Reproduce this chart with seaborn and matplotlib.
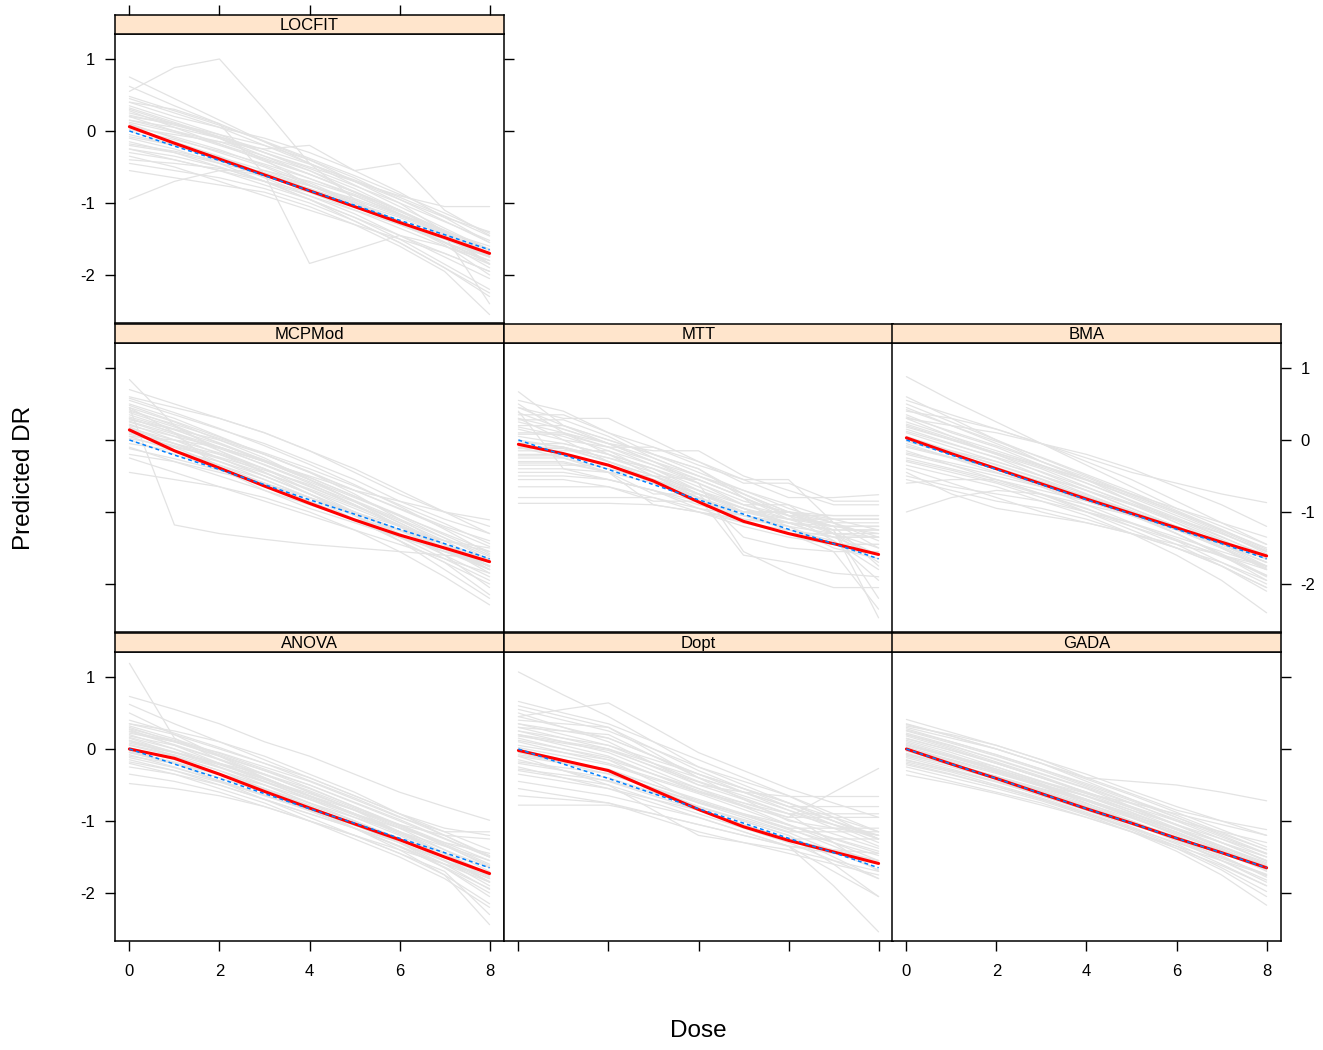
import numpy as np
import pandas as pd
import seaborn as sns
import matplotlib.pyplot as plt

# Predicted dose-response curves per method (grey = single simulations,
# red = mean prediction, blue dashed = true curve)

doses = [0, 1, 2, 3, 4, 5, 6, 7, 8]

true_dr = [0.0, -0.21, -0.41, -0.62, -0.83, -1.03, -1.24, -1.44, -1.65]

locfit_fit = [0.06, -0.17, -0.39, -0.61, -0.83, -1.05, -1.27, -1.48, -1.70]
mcpmod_fit = [0.14, -0.15, -0.39, -0.64, -0.88, -1.11, -1.32, -1.50, -1.69]
mtt_fit = [-0.06, -0.19, -0.35, -0.57, -0.86, -1.13, -1.30, -1.44, -1.59]
bma_fit = [0.03, -0.19, -0.40, -0.61, -0.82, -1.02, -1.22, -1.42, -1.61]
anova_fit = [0.0, -0.13, -0.35, -0.59, -0.82, -1.04, -1.26, -1.50, -1.73]
dopt_fit = [-0.02, -0.16, -0.30, -0.57, -0.84, -1.08, -1.27, -1.43, -1.59]
gada_fit = [0.0, -0.21, -0.41, -0.62, -0.83, -1.03, -1.24, -1.44, -1.65]

locfit_sims = [
    [0.75, 0.45, 0.15, -0.15, -0.45, -0.75, -1.05, -1.35, -1.65],
    [0.62, 0.35, 0.10, -0.15, -0.40, -0.70, -1.00, -1.40, -1.85],
    [0.55, 0.88, 1.00, 0.30, -0.45, -0.95, -1.30, -1.55, -1.75],
    [0.45, 0.25, 0.05, -0.20, -0.45, -0.70, -0.95, -1.20, -1.40],
    [0.40, 0.20, 0.05, -0.10, -0.30, -0.55, -0.85, -1.20, -1.55],
    [0.35, 0.15, -0.05, -0.30, -0.55, -0.85, -1.15, -1.45, -1.75],
    [0.30, 0.10, -0.10, -0.35, -0.60, -0.85, -1.10, -1.40, -1.70],
    [0.25, 0.10, -0.05, -0.20, -0.40, -0.65, -0.95, -1.25, -1.55],
    [0.20, 0.00, -0.20, -0.40, -0.60, -0.85, -1.10, -1.40, -1.70],
    [0.15, 0.00, -0.15, -0.35, -0.55, -0.80, -1.10, -1.45, -1.85],
    [0.10, -0.10, -0.30, -0.50, -0.75, -1.00, -1.25, -1.55, -1.90],
    [0.05, -0.15, -0.35, -0.60, -0.85, -1.10, -1.35, -1.60, -1.85],
    [0.00, -0.20, -0.40, -0.60, -0.80, -1.05, -1.30, -1.55, -1.80],
    [-0.05, -0.20, -0.40, -0.65, -0.90, -1.15, -1.45, -1.75, -2.05],
    [-0.10, -0.25, -0.45, -0.70, -0.95, -1.25, -1.55, -1.90, -2.25],
    [-0.15, -0.30, -0.50, -0.70, -0.90, -1.10, -1.30, -1.50, -1.70],
    [-0.20, -0.30, -0.45, -0.60, -0.80, -1.00, -1.25, -1.50, -1.75],
    [-0.25, -0.35, -0.50, -0.70, -0.95, -1.20, -1.45, -1.70, -1.95],
    [-0.30, -0.40, -0.55, -0.75, -0.95, -1.20, -1.50, -1.85, -2.20],
    [-0.35, -0.50, -0.70, -0.90, -1.10, -1.30, -1.50, -1.70, -1.95],
    [-0.45, -0.55, -0.65, -0.80, -1.00, -1.25, -1.55, -1.90, -2.30],
    [-0.55, -0.65, -0.75, -0.85, -1.05, -1.30, -1.60, -1.95, -2.55],
    [-0.95, -0.70, -0.55, -0.55, -0.70, -0.90, -1.15, -1.40, -1.60],
    [0.20, 0.10, -0.10, -0.40, -0.75, -1.00, -1.25, -1.50, -1.75],
    [0.40, 0.30, 0.10, -0.60, -1.84, -1.65, -1.45, -1.60, -1.80],
    [0.05, -0.05, -0.15, -0.25, -0.20, -0.55, -0.45, -1.10, -1.45],
    [0.15, 0.05, -0.10, -0.30, -0.50, -0.70, -0.90, -1.05, -1.05],
    [-0.25, -0.40, -0.55, -0.70, -0.85, -1.00, -1.20, -1.45, -2.40],
    [0.32, 0.12, -0.08, -0.30, -0.52, -0.76, -1.00, -1.26, -1.52],
    [0.28, 0.05, -0.18, -0.42, -0.66, -0.90, -1.16, -1.44, -1.74],
    [0.12, -0.02, -0.18, -0.38, -0.60, -0.84, -1.10, -1.38, -1.66],
    [0.02, -0.12, -0.28, -0.46, -0.66, -0.88, -1.12, -1.38, -1.64],
    [-0.08, -0.20, -0.36, -0.55, -0.76, -1.00, -1.26, -1.54, -1.84],
    [-0.18, -0.28, -0.42, -0.58, -0.76, -0.96, -1.18, -1.42, -1.66],
    [0.48, 0.28, 0.08, -0.14, -0.38, -0.62, -0.88, -1.14, -1.42],
    [0.22, 0.08, -0.08, -0.26, -0.46, -0.68, -0.92, -1.18, -1.46],
    [-0.40, -0.45, -0.52, -0.62, -0.76, -0.94, -1.16, -1.42, -1.72],
    [0.08, -0.08, -0.26, -0.48, -0.72, -0.98, -1.26, -1.58, -2.00],
]

mcpmod_sims = [
    [0.84, 0.20, -0.15, -0.45, -0.75, -1.00, -1.25, -1.45, -1.65],
    [0.60, 0.45, 0.30, 0.10, -0.15, -0.45, -0.75, -1.00, -1.20],
    [0.55, 0.35, 0.15, -0.05, -0.30, -0.55, -0.85, -1.10, -1.30],
    [0.50, 0.30, 0.05, -0.20, -0.45, -0.70, -0.95, -1.20, -1.40],
    [0.45, 0.25, 0.00, -0.25, -0.55, -0.85, -1.15, -1.45, -1.75],
    [0.42, 0.20, -0.05, -0.30, -0.55, -0.80, -1.05, -1.30, -1.55],
    [0.45, -1.18, -1.30, -1.38, -1.45, -1.50, -1.55, -1.60, -1.65],
    [0.35, 0.15, -0.10, -0.35, -0.60, -0.90, -1.20, -1.50, -1.80],
    [0.30, 0.10, -0.15, -0.40, -0.70, -1.00, -1.30, -1.60, -1.90],
    [0.28, 0.15, 0.00, -0.20, -0.45, -0.75, -1.10, -1.45, -1.80],
    [0.25, 0.05, -0.20, -0.45, -0.70, -0.95, -1.20, -1.40, -1.55],
    [0.22, 0.00, -0.25, -0.50, -0.75, -1.00, -1.25, -1.50, -1.75],
    [0.20, 0.05, -0.10, -0.30, -0.55, -0.85, -1.15, -1.45, -1.75],
    [0.15, -0.05, -0.25, -0.50, -0.75, -1.05, -1.35, -1.65, -1.95],
    [0.12, -0.10, -0.35, -0.60, -0.85, -1.10, -1.35, -1.55, -1.75],
    [0.10, -0.05, -0.20, -0.40, -0.65, -0.90, -1.20, -1.50, -1.85],
    [0.05, -0.15, -0.35, -0.55, -0.80, -1.05, -1.30, -1.55, -1.80],
    [0.05, 0.00, -0.10, -0.30, -0.55, -0.85, -1.20, -1.60, -2.05],
    [0.00, -0.20, -0.40, -0.60, -0.85, -1.10, -1.40, -1.70, -2.00],
    [-0.05, -0.15, -0.30, -0.50, -0.75, -1.05, -1.40, -1.80, -2.20],
    [-0.10, -0.30, -0.50, -0.70, -0.90, -1.10, -1.25, -1.40, -1.50],
    [-0.20, -0.30, -0.45, -0.60, -0.80, -1.00, -1.20, -1.45, -1.70],
    [-0.25, -0.45, -0.65, -0.85, -1.05, -1.25, -1.45, -1.65, -1.85],
    [-0.45, -0.55, -0.65, -0.80, -1.00, -1.25, -1.55, -1.90, -2.29],
    [0.70, 0.50, 0.30, 0.10, -0.15, -0.40, -0.70, -1.00, -1.30],
    [0.30, 0.10, -0.10, -0.30, -0.50, -0.70, -0.85, -1.00, -1.11],
    [0.18, -0.05, -0.30, -0.55, -0.80, -1.10, -1.40, -1.70, -2.15],
    [0.45, 0.10, -0.40, -0.70, -0.95, -1.15, -1.35, -1.55, -1.70],
    [0.48, 0.26, 0.04, -0.20, -0.44, -0.70, -0.96, -1.22, -1.48],
    [0.38, 0.18, -0.04, -0.28, -0.52, -0.78, -1.04, -1.32, -1.60],
    [0.32, 0.14, -0.06, -0.28, -0.52, -0.78, -1.06, -1.36, -1.66],
    [0.26, 0.08, -0.12, -0.34, -0.58, -0.84, -1.10, -1.36, -1.62],
    [0.16, 0.00, -0.18, -0.40, -0.64, -0.90, -1.18, -1.46, -1.76],
    [0.08, -0.08, -0.26, -0.46, -0.68, -0.92, -1.18, -1.46, -1.76],
    [0.02, -0.10, -0.24, -0.42, -0.62, -0.86, -1.12, -1.40, -1.70],
    [-0.12, -0.26, -0.42, -0.60, -0.80, -1.02, -1.26, -1.52, -1.80],
    [0.40, 0.22, 0.02, -0.18, -0.40, -0.64, -0.90, -1.16, -1.44],
    [0.58, 0.38, 0.16, -0.08, -0.34, -0.62, -0.92, -1.24, -1.58],
]

mtt_sims = [
    [0.67, 0.20, -0.05, -0.30, -0.55, -0.80, -1.05, -1.40, -1.80],
    [0.55, 0.40, 0.10, -0.20, -0.40, -0.80, -1.10, -1.30, -1.50],
    [0.45, 0.30, 0.30, 0.00, -0.30, -0.60, -0.60, -0.85, -0.85],
    [0.40, -0.40, -0.45, -0.50, -0.75, -1.00, -1.00, -1.20, -1.20],
    [0.35, 0.35, 0.10, -0.10, -0.35, -0.55, -0.80, -0.80, -0.76],
    [0.30, 0.15, -0.05, -0.15, -0.15, -0.50, -0.70, -0.90, -0.90],
    [0.25, 0.10, -0.10, -0.10, -0.30, -0.55, -0.55, -1.15, -1.40],
    [0.20, 0.20, 0.00, -0.20, -0.40, -0.75, -1.05, -1.05, -1.05],
    [0.15, 0.00, -0.10, -0.30, -0.50, -0.75, -1.00, -1.30, -1.60],
    [0.10, 0.10, -0.05, -0.30, -0.60, -0.90, -1.10, -1.10, -1.10],
    [0.05, -0.05, -0.20, -0.40, -0.65, -0.90, -0.90, -1.30, -1.70],
    [0.00, -0.10, -0.25, -0.40, -0.70, -1.00, -1.15, -1.25, -1.25],
    [-0.05, -0.05, -0.20, -0.50, -0.55, -0.80, -1.30, -1.30, -1.35],
    [-0.10, -0.10, -0.30, -0.55, -0.75, -1.35, -1.50, -1.55, -1.55],
    [-0.15, -0.15, -0.15, -0.45, -0.75, -0.95, -1.15, -1.35, -1.60],
    [-0.20, -0.20, -0.35, -0.60, -0.85, -1.00, -1.00, -1.10, -1.10],
    [-0.25, -0.25, -0.40, -0.55, -0.80, -1.05, -1.25, -1.40, -1.95],
    [-0.30, -0.30, -0.45, -0.75, -0.75, -0.95, -1.20, -1.45, -1.45],
    [-0.35, -0.35, -0.35, -0.55, -0.85, -1.00, -1.00, -1.25, -2.20],
    [-0.40, -0.40, -0.55, -0.70, -0.95, -1.15, -1.25, -1.35, -1.35],
    [-0.45, -0.45, -0.55, -0.70, -0.85, -1.05, -1.15, -1.25, -2.47],
    [-0.55, -0.55, -0.65, -0.85, -0.85, -1.10, -1.20, -1.50, -1.65],
    [-0.65, -0.65, -0.65, -0.80, -1.00, -1.20, -1.35, -1.45, -1.45],
    [-0.80, -0.80, -0.80, -0.80, -0.95, -1.05, -1.20, -1.30, -1.30],
    [-0.88, -0.88, -0.88, -0.90, -1.00, -1.10, -1.15, -1.20, -1.20],
    [0.50, 0.10, -0.20, -0.40, -0.60, -1.55, -1.85, -2.05, -2.05],
    [0.30, 0.00, -0.30, -0.50, -0.80, -1.60, -1.70, -1.85, -1.90],
    [-0.10, -0.25, -0.45, -0.90, -1.00, -1.15, -1.30, -1.55, -2.35],
    [0.45, 0.20, 0.00, -0.20, -0.45, -0.70, -0.95, -1.15, -1.35],
    [0.28, 0.28, 0.05, -0.25, -0.50, -0.70, -0.90, -1.10, -1.25],
    [0.18, 0.05, -0.15, -0.35, -0.55, -0.80, -1.05, -1.20, -1.20],
    [0.08, 0.08, -0.10, -0.35, -0.60, -0.85, -1.00, -1.15, -1.50],
    [-0.02, -0.10, -0.25, -0.45, -0.70, -0.95, -1.10, -1.20, -1.30],
    [-0.12, -0.12, -0.30, -0.50, -0.70, -0.90, -1.05, -1.20, -1.75],
    [-0.22, -0.22, -0.35, -0.55, -0.75, -0.95, -1.15, -1.35, -1.35],
    [-0.32, -0.32, -0.45, -0.60, -0.80, -1.00, -1.10, -1.15, -1.15],
    [-0.50, -0.50, -0.55, -0.70, -0.90, -1.05, -1.15, -1.25, -1.25],
    [0.38, 0.15, -0.05, -0.25, -0.50, -0.75, -1.00, -1.05, -1.05],
]

bma_sims = [
    [0.88, 0.55, 0.25, -0.05, -0.35, -0.65, -0.95, -1.20, -1.45],
    [0.55, 0.35, 0.15, -0.05, -0.25, -0.45, -0.60, -0.75, -0.87],
    [0.50, 0.25, 0.00, -0.25, -0.50, -0.75, -1.00, -1.25, -1.50],
    [0.45, 0.20, -0.05, -0.30, -0.55, -0.85, -1.15, -1.45, -1.75],
    [0.40, 0.30, 0.15, -0.05, -0.30, -0.55, -0.85, -1.15, -1.45],
    [0.35, 0.10, -0.10, -0.35, -0.60, -0.85, -1.10, -1.35, -1.60],
    [0.30, 0.05, -0.20, -0.45, -0.70, -0.95, -1.20, -1.50, -1.80],
    [0.25, 0.05, -0.15, -0.35, -0.55, -0.75, -0.95, -1.15, -1.35],
    [0.20, 0.00, -0.20, -0.40, -0.65, -0.90, -1.15, -1.40, -1.65],
    [0.15, -0.05, -0.25, -0.50, -0.75, -1.00, -1.30, -1.60, -1.95],
    [0.10, -0.10, -0.30, -0.50, -0.70, -0.95, -1.20, -1.45, -1.70],
    [0.05, -0.15, -0.35, -0.55, -0.80, -1.05, -1.30, -1.60, -1.90],
    [0.00, -0.15, -0.30, -0.50, -0.70, -0.90, -1.10, -1.30, -1.55],
    [-0.05, -0.25, -0.45, -0.65, -0.90, -1.15, -1.40, -1.70, -2.00],
    [-0.10, -0.25, -0.40, -0.60, -0.80, -1.00, -1.20, -1.45, -1.70],
    [-0.15, -0.35, -0.55, -0.75, -1.00, -1.25, -1.50, -1.75, -2.05],
    [-0.20, -0.35, -0.50, -0.65, -0.85, -1.05, -1.25, -1.45, -1.65],
    [-0.25, -0.40, -0.55, -0.75, -0.95, -1.20, -1.45, -1.75, -2.10],
    [-0.30, -0.45, -0.60, -0.80, -1.00, -1.20, -1.40, -1.60, -1.80],
    [-0.35, -0.50, -0.65, -0.85, -1.05, -1.30, -1.60, -1.95, -2.40],
    [-0.40, -0.60, -0.80, -1.00, -1.15, -1.30, -1.45, -1.60, -1.75],
    [-0.50, -0.65, -0.75, -0.85, -1.00, -1.15, -1.35, -1.55, -1.75],
    [-0.60, -0.55, -0.55, -0.70, -0.85, -1.05, -1.25, -1.50, -1.80],
    [-1.00, -0.80, -0.70, -0.75, -0.90, -1.05, -1.25, -1.45, -1.70],
    [-0.55, -0.70, -0.85, -0.95, -1.10, -1.30, -1.50, -1.75, -2.05],
    [0.30, 0.20, 0.10, -0.05, -0.20, -0.40, -0.65, -0.90, -1.20],
    [0.60, 0.30, 0.00, -0.30, -0.55, -0.80, -1.05, -1.30, -1.55],
    [-0.45, -0.75, -0.95, -1.05, -1.15, -1.30, -1.50, -1.70, -1.95],
    [0.42, 0.20, -0.02, -0.24, -0.48, -0.72, -0.98, -1.24, -1.52],
    [0.32, 0.12, -0.08, -0.30, -0.52, -0.76, -1.00, -1.26, -1.54],
    [0.22, 0.02, -0.18, -0.38, -0.60, -0.84, -1.08, -1.34, -1.62],
    [0.12, -0.06, -0.24, -0.44, -0.66, -0.88, -1.12, -1.38, -1.66],
    [0.02, -0.16, -0.34, -0.54, -0.76, -0.98, -1.22, -1.48, -1.76],
    [-0.08, -0.24, -0.40, -0.58, -0.78, -1.00, -1.24, -1.50, -1.78],
    [-0.18, -0.32, -0.46, -0.62, -0.80, -1.00, -1.20, -1.42, -1.64],
    [-0.28, -0.42, -0.58, -0.76, -0.96, -1.16, -1.38, -1.62, -1.88],
    [0.18, 0.00, -0.18, -0.36, -0.56, -0.78, -1.02, -1.28, -1.58],
    [-0.02, -0.20, -0.38, -0.58, -0.80, -1.04, -1.30, -1.58, -1.88],
]

anova_sims = [
    [1.19, 0.15, -0.15, -0.40, -0.65, -0.90, -1.15, -1.45, -1.75],
    [0.73, 0.55, 0.35, 0.10, -0.10, -0.35, -0.60, -0.80, -0.99],
    [0.62, 0.35, 0.10, -0.15, -0.40, -0.65, -0.90, -1.15, -1.40],
    [0.35, 0.20, 0.00, -0.20, -0.40, -0.65, -0.90, -1.10, -1.20],
    [0.30, 0.10, -0.10, -0.35, -0.60, -0.85, -1.10, -1.40, -1.70],
    [0.27, 0.05, -0.20, -0.45, -0.70, -0.95, -1.20, -1.50, -1.85],
    [0.25, 0.10, -0.10, -0.30, -0.50, -0.75, -1.00, -1.25, -1.50],
    [0.20, 0.00, -0.25, -0.50, -0.75, -1.00, -1.25, -1.55, -1.90],
    [0.18, 0.05, -0.15, -0.35, -0.60, -0.85, -1.15, -1.50, -1.85],
    [0.15, -0.05, -0.25, -0.45, -0.65, -0.85, -1.05, -1.20, -1.25],
    [0.12, -0.10, -0.30, -0.55, -0.80, -1.05, -1.30, -1.60, -1.95],
    [0.10, -0.05, -0.20, -0.40, -0.65, -0.90, -1.15, -1.40, -1.65],
    [0.08, -0.05, -0.20, -0.35, -0.55, -0.80, -1.05, -1.30, -1.55],
    [0.05, -0.10, -0.30, -0.50, -0.75, -1.00, -1.30, -1.65, -2.05],
    [0.02, -0.15, -0.35, -0.55, -0.75, -0.95, -1.15, -1.35, -1.55],
    [-0.02, -0.20, -0.40, -0.60, -0.80, -1.05, -1.30, -1.55, -1.80],
    [-0.05, -0.20, -0.35, -0.55, -0.80, -1.10, -1.40, -1.75, -2.15],
    [-0.08, -0.25, -0.45, -0.65, -0.85, -1.10, -1.35, -1.65, -2.00],
    [-0.10, -0.20, -0.35, -0.50, -0.70, -0.90, -1.10, -1.30, -1.45],
    [-0.15, -0.30, -0.50, -0.70, -0.90, -1.10, -1.30, -1.55, -1.80],
    [-0.20, -0.35, -0.55, -0.75, -1.00, -1.25, -1.50, -1.80, -2.20],
    [-0.25, -0.35, -0.50, -0.70, -0.90, -1.10, -1.35, -1.60, -1.85],
    [-0.35, -0.45, -0.60, -0.80, -1.00, -1.20, -1.45, -1.75, -2.44],
    [-0.48, -0.55, -0.65, -0.80, -1.00, -1.20, -1.40, -1.60, -1.75],
    [0.50, 0.20, -0.10, -0.40, -0.65, -0.90, -1.15, -1.45, -1.75],
    [0.35, 0.25, 0.10, -0.10, -0.35, -0.60, -0.90, -1.20, -1.50],
    [-0.05, -0.20, -0.45, -0.70, -0.95, -1.20, -1.45, -1.70, -2.30],
    [0.22, 0.10, -0.05, -0.25, -0.45, -0.70, -0.95, -1.15, -1.15],
    [0.32, 0.14, -0.06, -0.28, -0.50, -0.74, -0.98, -1.24, -1.50],
    [0.24, 0.06, -0.14, -0.36, -0.58, -0.82, -1.06, -1.32, -1.60],
    [0.16, 0.00, -0.20, -0.42, -0.66, -0.90, -1.16, -1.44, -1.74],
    [0.06, -0.08, -0.26, -0.46, -0.68, -0.92, -1.18, -1.46, -1.76],
    [-0.04, -0.18, -0.36, -0.56, -0.78, -1.00, -1.24, -1.50, -1.78],
    [-0.12, -0.26, -0.44, -0.64, -0.86, -1.10, -1.36, -1.64, -1.94],
    [0.28, 0.12, -0.08, -0.30, -0.54, -0.80, -1.06, -1.34, -1.64],
    [0.12, -0.04, -0.22, -0.42, -0.62, -0.84, -1.08, -1.34, -1.62],
    [-0.18, -0.30, -0.46, -0.64, -0.84, -1.06, -1.30, -1.56, -1.84],
    [0.40, 0.22, 0.02, -0.20, -0.44, -0.68, -0.94, -1.20, -1.48],
]

dopt_sims = [
    [1.07, 0.75, 0.45, 0.10, -0.25, -0.50, -0.75, -1.00, -1.25],
    [0.66, 0.50, 0.35, 0.10, -0.15, -0.40, -0.65, -0.95, -1.25],
    [0.55, 0.40, 0.25, 0.00, -0.25, -0.45, -0.65, -0.90, -1.15],
    [0.45, 0.55, 0.64, 0.30, -0.05, -0.30, -0.55, -0.75, -0.95],
    [0.40, 0.35, 0.30, -0.05, -0.40, -0.60, -0.80, -1.00, -1.20],
    [0.35, 0.20, 0.05, -0.15, -0.35, -0.55, -0.75, -0.95, -1.15],
    [0.30, 0.15, 0.00, -0.25, -0.50, -0.70, -0.90, -1.30, -1.70],
    [0.25, 0.10, -0.05, -0.30, -0.55, -0.80, -1.05, -1.30, -1.55],
    [0.20, 0.10, 0.00, -0.20, -0.40, -0.60, -0.80, -0.80, -0.80],
    [0.15, 0.00, -0.15, -0.35, -0.55, -0.75, -0.95, -0.95, -0.95],
    [0.10, -0.05, -0.20, -0.40, -0.60, -0.75, -0.90, -1.05, -1.20],
    [0.05, -0.05, -0.15, -0.45, -0.75, -0.90, -1.05, -1.25, -1.45],
    [0.00, -0.15, -0.30, -0.50, -0.70, -0.90, -1.10, -1.35, -1.60],
    [-0.05, -0.20, -0.35, -0.55, -0.75, -0.95, -1.15, -1.15, -1.15],
    [-0.10, -0.20, -0.30, -0.55, -0.80, -1.00, -1.20, -1.50, -1.80],
    [-0.15, -0.30, -0.45, -0.65, -0.85, -1.05, -1.25, -1.25, -1.25],
    [-0.20, -0.30, -0.40, -0.60, -0.80, -1.00, -1.20, -1.60, -2.05],
    [-0.25, -0.40, -0.55, -0.70, -0.85, -1.05, -1.25, -1.40, -1.55],
    [-0.30, -0.40, -0.50, -0.70, -0.90, -1.10, -1.30, -1.55, -1.80],
    [-0.35, -0.45, -0.55, -0.75, -0.95, -1.15, -1.35, -1.90, -2.54],
    [-0.45, -0.55, -0.65, -0.80, -0.95, -1.15, -1.35, -1.45, -1.55],
    [-0.55, -0.65, -0.75, -0.90, -1.05, -1.20, -1.35, -1.70, -2.05],
    [-0.78, -0.78, -0.78, -0.90, -1.05, -1.20, -1.35, -1.40, -1.45],
    [-0.65, -0.70, -0.75, -0.95, -1.15, -1.30, -1.45, -1.60, -1.75],
    [0.20, 0.05, -0.10, -0.35, -0.60, -0.80, -0.95, -0.60, -0.27],
    [0.50, 0.30, 0.10, -0.20, -0.50, -0.60, -0.66, -0.66, -0.66],
    [-0.10, -0.30, -0.50, -0.85, -1.20, -1.30, -1.40, -1.55, -1.70],
    [0.30, 0.25, 0.20, -0.10, -0.40, -0.70, -1.00, -1.10, -1.20],
    [0.45, 0.30, 0.15, -0.10, -0.35, -0.55, -0.75, -1.00, -1.25],
    [0.35, 0.25, 0.15, -0.10, -0.35, -0.60, -0.85, -1.05, -1.25],
    [0.25, 0.15, 0.05, -0.20, -0.45, -0.65, -0.85, -1.10, -1.35],
    [0.12, 0.00, -0.12, -0.35, -0.58, -0.78, -0.98, -1.18, -1.38],
    [0.02, -0.10, -0.22, -0.42, -0.62, -0.84, -1.06, -1.24, -1.42],
    [-0.08, -0.18, -0.28, -0.50, -0.72, -0.92, -1.12, -1.30, -1.48],
    [-0.18, -0.26, -0.34, -0.54, -0.74, -0.92, -1.10, -1.10, -1.10],
    [-0.28, -0.36, -0.44, -0.62, -0.80, -0.98, -1.16, -1.42, -1.68],
    [0.18, 0.08, -0.02, -0.24, -0.46, -0.68, -0.90, -0.90, -0.90],
    [0.60, 0.45, 0.30, 0.00, -0.30, -0.55, -0.80, -1.05, -1.30],
]

gada_sims = [
    [0.41, 0.23, 0.05, -0.15, -0.35, -0.58, -0.80, -1.00, -1.20],
    [0.35, 0.18, 0.00, -0.20, -0.45, -0.70, -0.95, -1.20, -1.45],
    [0.30, 0.15, 0.00, -0.20, -0.40, -0.45, -0.50, -0.60, -0.72],
    [0.28, 0.10, -0.08, -0.28, -0.50, -0.72, -0.95, -1.18, -1.40],
    [0.25, 0.08, -0.10, -0.30, -0.52, -0.75, -1.00, -1.25, -1.50],
    [0.22, 0.05, -0.15, -0.35, -0.55, -0.80, -1.05, -1.30, -1.55],
    [0.20, 0.02, -0.18, -0.38, -0.60, -0.80, -1.00, -1.15, -1.30],
    [0.18, 0.00, -0.20, -0.40, -0.62, -0.85, -1.10, -1.35, -1.60],
    [0.15, -0.02, -0.20, -0.40, -0.60, -0.82, -1.05, -1.30, -1.55],
    [0.12, -0.05, -0.25, -0.45, -0.65, -0.88, -1.12, -1.38, -1.65],
    [0.10, -0.08, -0.28, -0.48, -0.70, -0.92, -1.15, -1.40, -1.70],
    [0.08, -0.10, -0.30, -0.50, -0.65, -0.85, -1.05, -1.25, -1.45],
    [0.05, -0.12, -0.30, -0.50, -0.72, -0.95, -1.20, -1.48, -1.78],
    [0.03, -0.15, -0.32, -0.52, -0.75, -1.00, -1.25, -1.50, -1.75],
    [0.00, -0.15, -0.32, -0.50, -0.70, -0.90, -1.10, -1.30, -1.50],
    [-0.03, -0.20, -0.38, -0.58, -0.78, -1.00, -1.25, -1.55, -1.85],
    [-0.06, -0.22, -0.40, -0.58, -0.80, -1.02, -1.28, -1.55, -1.82],
    [-0.10, -0.25, -0.42, -0.60, -0.80, -1.00, -1.22, -1.45, -1.68],
    [-0.12, -0.28, -0.45, -0.65, -0.85, -1.08, -1.32, -1.60, -1.90],
    [-0.15, -0.30, -0.45, -0.65, -0.85, -1.05, -1.25, -1.45, -1.62],
    [-0.18, -0.32, -0.50, -0.68, -0.88, -1.10, -1.35, -1.65, -1.98],
    [-0.20, -0.35, -0.52, -0.70, -0.90, -1.12, -1.38, -1.68, -2.05],
    [-0.25, -0.40, -0.55, -0.72, -0.92, -1.15, -1.42, -1.75, -2.17],
    [-0.30, -0.45, -0.60, -0.75, -0.95, -1.15, -1.35, -1.55, -1.75],
    [-0.36, -0.48, -0.62, -0.78, -0.95, -1.15, -1.38, -1.62, -1.90],
    [0.32, 0.20, 0.05, -0.15, -0.40, -0.62, -0.85, -1.00, -1.12],
    [0.05, -0.10, -0.25, -0.45, -0.62, -0.75, -0.90, -1.05, -1.20],
    [-0.08, -0.22, -0.38, -0.55, -0.72, -0.92, -1.12, -1.35, -1.58],
    [0.26, 0.10, -0.08, -0.28, -0.48, -0.70, -0.92, -1.16, -1.40],
    [0.20, 0.04, -0.14, -0.34, -0.54, -0.76, -0.98, -1.22, -1.46],
    [0.14, -0.02, -0.20, -0.40, -0.60, -0.82, -1.06, -1.30, -1.56],
    [0.06, -0.10, -0.28, -0.46, -0.66, -0.88, -1.12, -1.36, -1.62],
    [-0.02, -0.18, -0.34, -0.52, -0.72, -0.94, -1.18, -1.42, -1.68],
    [-0.08, -0.22, -0.38, -0.56, -0.76, -0.96, -1.18, -1.40, -1.62],
    [-0.16, -0.30, -0.46, -0.64, -0.84, -1.04, -1.26, -1.50, -1.76],
    [0.34, 0.18, 0.00, -0.20, -0.42, -0.64, -0.88, -1.12, -1.36],
    [0.00, -0.16, -0.32, -0.50, -0.70, -0.92, -1.16, -1.40, -1.66],
    [-0.22, -0.36, -0.52, -0.70, -0.90, -1.10, -1.30, -1.52, -1.74],
]

methods = ["LOCFIT", "MCPMod", "MTT", "BMA", "ANOVA", "Dopt", "GADA"]
sims = [locfit_sims, mcpmod_sims, mtt_sims, bma_sims, anova_sims, dopt_sims, gada_sims]
fits = [locfit_fit, mcpmod_fit, mtt_fit, bma_fit, anova_fit, dopt_fit, gada_fit]

# long format table for seaborn
rows = []
for m, s in zip(methods, sims):
    for i, line in enumerate(s):
        for d, v in zip(doses, line):
            rows.append({"Method": m, "sim": i, "Dose": d, "DR": v})
df = pd.DataFrame(rows)

sns.set_style("white")
plt.rcParams["font.family"] = ["Liberation Sans", "DejaVu Sans"]
plt.rcParams["text.color"] = "black"

W, H = 1323, 1050
fig = plt.figure(figsize=(W / 100, H / 100), dpi=100)

col_x = [115, 504, 892]
row_y = [34, 343, 652]
pw, ph, sh = 389, 289, 19

# (row, col) of each panel
grid = {"LOCFIT": (0, 0), "MCPMod": (1, 0), "MTT": (1, 1), "BMA": (1, 2),
        "ANOVA": (2, 0), "Dopt": (2, 1), "GADA": (2, 2)}

xlim = (-0.32, 8.32)
ylim = (-2.667, 1.347)
tick_kw = dict(direction="out", length=7.2, width=1.0, labelsize=12, pad=7,
               colors="black", labelcolor="black")

for m, fit in zip(methods, fits):
    r, c = grid[m]
    x0, y0 = col_x[c], row_y[r]
    ax = fig.add_axes([x0 / W, 1 - (y0 + ph) / H, pw / W, ph / H])
    sub = df[df["Method"] == m]
    sns.lineplot(data=sub, x="Dose", y="DR", units="sim", estimator=None,
                 color="#E3E3E3", linewidth=0.9, ax=ax, legend=False)
    sns.lineplot(x=doses, y=fit, color="#FF0000", linewidth=2.2, ax=ax)
    sns.lineplot(x=doses, y=true_dr, color="#0080FF", linewidth=1.1,
                 linestyle=(0, (2.5, 2.0)), ax=ax)
    ax.set_xlim(xlim)
    ax.set_ylim(ylim)
    ax.set_xticks([0, 2, 4, 6, 8])
    ax.set_yticks([-2, -1, 0, 1])
    ax.set_xlabel("")
    ax.set_ylabel("")
    for sp in ax.spines.values():
        sp.set_visible(True)
        sp.set_color("black")
        sp.set_linewidth(1.1)
    ax.tick_params(**tick_kw)
    ax.tick_params(axis="x", pad=9.5)
    ax.tick_params(left=False, labelleft=False, right=False, labelright=False,
                   bottom=False, labelbottom=False, top=False, labeltop=False)
    # lattice style alternating axes
    if m in ("LOCFIT", "ANOVA"):
        ax.tick_params(left=True, labelleft=True)
    if m == "MCPMod":
        ax.tick_params(left=True)
    if m in ("LOCFIT", "GADA"):
        ax.tick_params(right=True)
    if m == "BMA":
        ax.tick_params(right=True, labelright=True)
    if m in ("ANOVA", "GADA"):
        ax.tick_params(bottom=True, labelbottom=True)
    if m == "Dopt":
        ax.tick_params(bottom=True)
    ax.set_yticklabels(["-2", "-1", "0", "1"])

    # strip
    sax = fig.add_axes([x0 / W, 1 - y0 / H, pw / W, sh / H])
    sax.set_facecolor("#FFE5CC")
    sax.set_xlim(xlim)
    sax.set_ylim(0, 1)
    sax.set_xticks([0, 2, 4, 6, 8])
    sax.set_yticks([])
    for sp in sax.spines.values():
        sp.set_visible(True)
        sp.set_color("black")
        sp.set_linewidth(1.1)
    sax.tick_params(**tick_kw)
    sax.tick_params(bottom=False, labelbottom=False, top=(m == "LOCFIT"), labeltop=False,
                    left=False, labelleft=False)
    sax.text(0.5, 0.45, m, transform=sax.transAxes, ha="center", va="center",
             fontsize=12, color="black")

fig.text(24 / W, 1 - 478 / H, "Predicted DR", rotation=90, ha="center", va="center",
         fontsize=17.5, color="black")
fig.text(698 / W, 1 - 1031 / H, "Dose", ha="center", va="center", fontsize=17.5, color="black")

fig.savefig("out.png", dpi=100)
